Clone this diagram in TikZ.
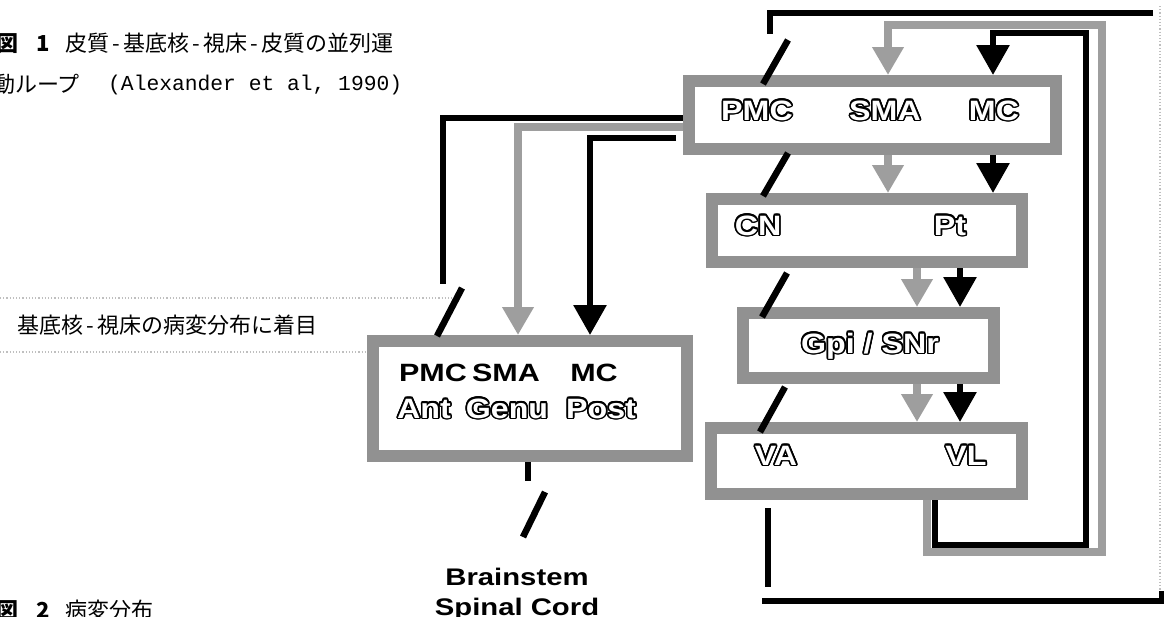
\documentclass[tikz,border=0pt]{standalone}
\usepackage{fontspec}
\usepackage[copies]{contour}
\usetikzlibrary{arrows.meta}
\newfontfamily\jp{Noto Sans CJK JP}
\newfontfamily\mono{Liberation Mono}
\newfontfamily\helb[FakeStretch=1.15]{Liberation Sans}
\newfontfamily\helc[FakeStretch=1.22]{Liberation Sans}
\definecolor{bgray}{gray}{0.57}
\definecolor{agray}{gray}{0.62}
\definecolor{fgray}{gray}{0.75}
\contourlength{1.6pt}
\newcommand\jh{\makebox[14pt]{-}}
\begin{document}
\begin{tikzpicture}[x=1pt,y=-1pt,
  box/.style={draw=bgray,line width=12pt,fill=white,inner sep=0pt},
  olab/.style={text=white,font=\helb\bfseries\fontsize{28}{30}\selectfont,inner sep=0pt,text height=20pt,text depth=0pt},
  blab/.style={text=black,font=\helc\bfseries\fontsize{25}{27}\selectfont,inner sep=0pt,text height=18pt,text depth=0pt},
  slab/.style={text=black,font=\helc\bfseries\fontsize{24}{26}\selectfont,inner sep=0pt,text height=17pt,text depth=0pt},
  jtxt/.style={font=\jp\fontsize{22}{24}\selectfont,inner sep=0pt,anchor=west,text height=16pt,text depth=0pt},
  mtxt/.style={font=\mono\fontsize{21.3}{24}\selectfont,inner sep=0pt,anchor=west,text height=12pt,text depth=0pt},
  bline/.style={line width=6pt,black},
  gline/.style={line width=8pt,agray},
  slash/.style={line width=6.5pt,black},
  barrow/.style={bline,-{Triangle[width=32pt,length=30pt]}},
  garrow/.style={gline,-{Triangle[width=30pt,length=28pt]}},
  faint/.style={fgray,dotted,line width=1.2pt}
]
\useasboundingbox (0,0) rectangle (1164,616);
\clip (0,0) rectangle (1164,616);
\fill[white] (0,0) rectangle (1164,616);

% ---- captions ----
\node[jtxt] (c1a) at (-4,43) {\bfseries 図};
\node[jtxt] (c1b) at (36,43) {\bfseries 1};
\node[jtxt] (c1c) at (65,43) {皮質\jh 基底核\jh 視床\jh 皮質の並列運};
\node[jtxt] (c2a) at (-7,84) {動ループ};
\node[mtxt] (c2b) at (108,84) {(Alexander et al, 1990)};
\node[jtxt] (c3) at (17,325) {基底核\jh 視床の病変分布に着目};
\node[jtxt] (c4a) at (-4,610) {\bfseries 図};
\node[jtxt] (c4b) at (36,610) {\bfseries 2};
\node[jtxt] (c4c) at (65,610) {病変分布};

% faint dotted frame remnants
\draw[faint] (0,298) -- (455,298);
\draw[faint] (0,352) -- (445,352);
\draw[faint] (1160,6) -- (1160,591);

% ---- boxes ----
\node[box,minimum width=367pt,minimum height=68pt] (pmcbox) at (872.5,115) {};
\node[box,minimum width=310pt,minimum height=63pt] (cnbox) at (867,230.5) {};
\node[box,minimum width=251pt,minimum height=65pt] (gpibox) at (868.5,345.5) {};
\node[box,minimum width=311pt,minimum height=66pt] (vabox) at (866.5,461) {};
\node[box,minimum width=314pt,minimum height=115pt] (leftbox) at (530,398.5) {};

% ---- labels ----
\node[olab] (tpmc) at (757,110) {\contour{black}{PMC}};
\node[olab] (tsma) at (885,110) {\contour{black}{SMA}};
\node[olab] (tmc) at (994,110) {\contour{black}{MC}};
\node[olab] (tcn) at (758,225) {\contour{black}{CN}};
\node[olab] (tpt) at (950,225) {\contour{black}{Pt}};
\node[olab] (tgpi) at (870,343) {\contour{black}{Gpi / SNr}};
\node[olab] (tva) at (776,455) {\contour{black}{VA}};
\node[olab] (tvl) at (966,455) {\contour{black}{VL}};

\node[blab] (lpmc) at (433,372) {PMC};
\node[blab] (lsma) at (506,372) {SMA};
\node[blab] (lmc) at (594,372) {MC};
\node[olab] (lant) at (424,408) {\contour{black}{Ant}};
\node[olab] (lgenu) at (507,408) {\contour{black}{Genu}};
\node[olab] (lpost) at (601,408) {\contour{black}{Post}};

\node[slab] (brain1) at (517,577) {Brainstem};
\node[slab] (brain2) at (517,607) {Spinal Cord};

% ---- right column arrows ----
\coordinate (xg1) at (888,0);
\coordinate (xb1) at (993,0);
\coordinate (xg2) at (917,0);
\coordinate (xb2) at (960,0);
\draw[garrow] (xg1 |- pmcbox.south) -- (xg1 |- cnbox.north);
\draw[barrow] (xb1 |- pmcbox.south) -- (xb1 |- cnbox.north);
\draw[garrow] (xg2 |- cnbox.south) -- (xg2 |- gpibox.north);
\draw[barrow] (xb2 |- cnbox.south) -- (xb2 |- gpibox.north);
\draw[garrow] (xg2 |- gpibox.south) -- (xg2 |- vabox.north);
\draw[barrow] (xb2 |- gpibox.south) -- (xb2 |- vabox.north);

% slashes (PMC pathway)
\coordinate (sa1) at (788,40);  \coordinate (sa2) at (763,84);
\coordinate (sb1) at (788,153); \coordinate (sb2) at (763,196);
\coordinate (sc1) at (787,273); \coordinate (sc2) at (762,317);
\coordinate (sd1) at (785,387); \coordinate (sd2) at (760,432);
\draw[slash] (sa1) -- (sa2);
\draw[slash] (sb1) -- (sb2);
\draw[slash] (sc1) -- (sc2);
\draw[slash] (sd1) -- (sd2);

% ---- feedback loops VL -> SMA / MC ----
\coordinate (lg1) at (927,552); \coordinate (lg2) at (1102,552);
\coordinate (lg3) at (1102,25);  \coordinate (lg4) at (888,25);
\draw[garrow] (lg1 |- vabox.south) -- (lg1) -- (lg2) -- (lg3) -- (lg4) -- (lg4 |- pmcbox.north);
\coordinate (lb1) at (935,545); \coordinate (lb2) at (1086,545);
\coordinate (lb3) at (1086,33);  \coordinate (lb4) at (993,33);
\draw[barrow] (lb1 |- vabox.south) -- (lb1) -- (lb2) -- (lb3) -- (lb4) -- (lb4 |- pmcbox.north);

% ---- outer loop VA -> PMC ----
\coordinate (t1) at (768,508); \coordinate (t2) at (768,587);
\draw[bline] (t1) -- (t2);
\coordinate (b1) at (762,601); \coordinate (b2) at (1162,601); \coordinate (b3) at (1162,591);
\draw[bline] (b1) -- (b2) -- (b3);
\coordinate (u1) at (1153,13); \coordinate (u2) at (770,13); \coordinate (u3) at (770,34);
\draw[bline] (u1) -- (u2) -- (u3);

% ---- cortex -> left box ----
\coordinate (kp1) at (443,118); \coordinate (kp2) at (443,284);
\draw[bline] (pmcbox.west |- kp1) -- (kp1) -- (kp2);
\coordinate (ls1) at (462,288); \coordinate (ls2) at (437,336);
\draw[slash] (ls1) -- (ls2);
\coordinate (kg1) at (518,127);
\draw[garrow] (pmcbox.west |- kg1) -- (kg1) -- (kg1 |- leftbox.north);
\coordinate (km0) at (676,138); \coordinate (km1) at (590,138);
\draw[barrow] (km0) -- (km1) -- (km1 |- leftbox.north);

% ---- left box -> brainstem ----
\coordinate (bs) at (528,481);
\draw[bline] (bs |- leftbox.south) -- (bs);
\coordinate (bs1) at (545,492); \coordinate (bs2) at (523,537);
\draw[slash] (bs1) -- (bs2);
\end{tikzpicture}
\end{document}
